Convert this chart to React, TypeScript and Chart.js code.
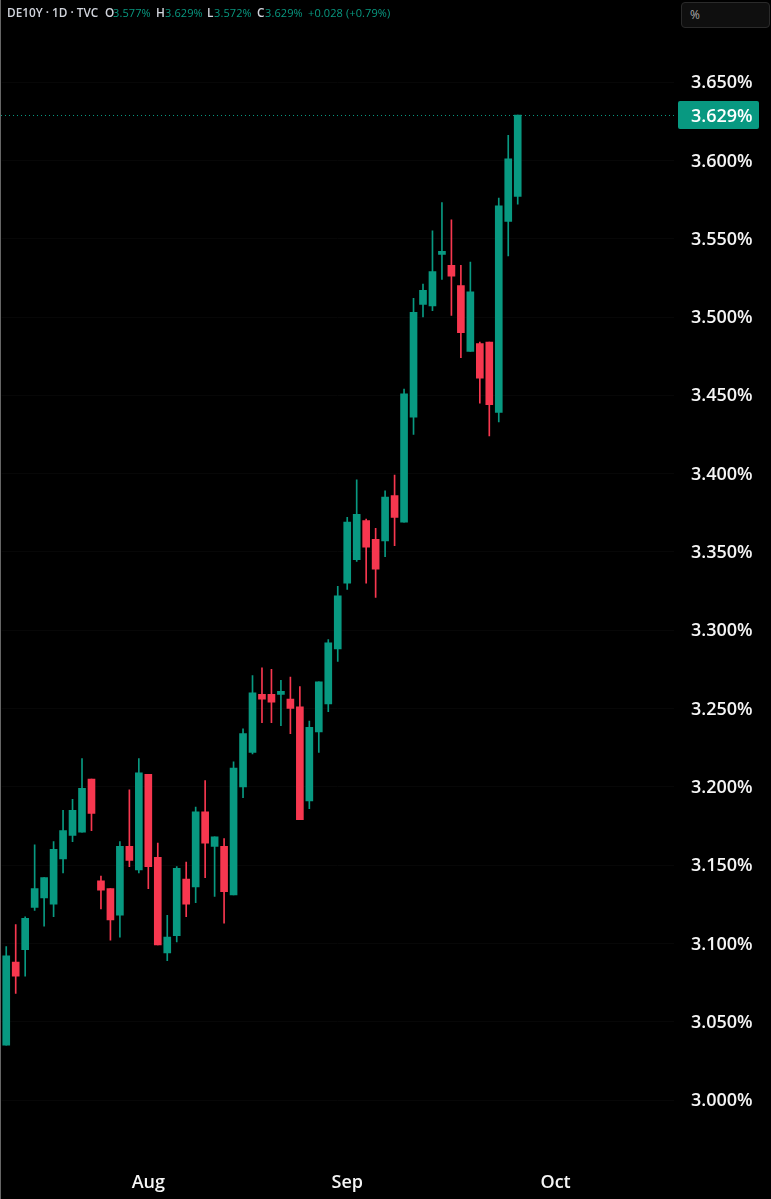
import React, { useEffect, useRef } from "react";
import { Chart, registerables } from "chart.js";

Chart.register(...registerables);

const UP = "#089981";
const DOWN = "#F7374F";

// One entry per trading day, oldest first
const opens = [
  3.035, 3.088, 3.096, 3.123, 3.129, 3.125, 3.154, 3.169, 3.171, 3.205,
  3.14, 3.135, 3.118, 3.162, 3.147, 3.208, 3.155, 3.094, 3.105, 3.141,
  3.136, 3.184, 3.162, 3.162, 3.131, 3.2, 3.222, 3.259, 3.259, 3.259,
  3.256, 3.251, 3.191, 3.235, 3.253, 3.288, 3.33, 3.345, 3.37, 3.358,
  3.357, 3.386, 3.369, 3.436, 3.508, 3.507, 3.54, 3.533, 3.52, 3.478,
  3.483, 3.484, 3.439, 3.561, 3.577,
];
const highs = [
  3.098, 3.112, 3.117, 3.163, 3.142, 3.165, 3.185, 3.192, 3.218, 3.205,
  3.143, 3.135, 3.165, 3.198, 3.218, 3.208, 3.164, 3.118, 3.149, 3.152,
  3.187, 3.204, 3.168, 3.167, 3.216, 3.237, 3.271, 3.276, 3.275, 3.268,
  3.27, 3.264, 3.242, 3.267, 3.294, 3.328, 3.372, 3.396, 3.371, 3.365,
  3.389, 3.399, 3.454, 3.512, 3.521, 3.555, 3.573, 3.562, 3.533, 3.535,
  3.484, 3.484, 3.576, 3.616, 3.629,
];
const lows = [
  3.035, 3.068, 3.079, 3.121, 3.111, 3.117, 3.145, 3.165, 3.171, 3.172,
  3.122, 3.102, 3.104, 3.149, 3.145, 3.135, 3.099, 3.089, 3.101, 3.117,
  3.126, 3.142, 3.13, 3.113, 3.131, 3.193, 3.221, 3.241, 3.241, 3.239,
  3.234, 3.179, 3.186, 3.222, 3.248, 3.28, 3.326, 3.344, 3.33, 3.321,
  3.347, 3.354, 3.369, 3.425, 3.5, 3.504, 3.524, 3.501, 3.474, 3.478,
  3.445, 3.424, 3.433, 3.539, 3.572,
];
const closes = [
  3.092, 3.079, 3.116, 3.135, 3.142, 3.16, 3.172, 3.185, 3.199, 3.183,
  3.134, 3.115, 3.162, 3.153, 3.209, 3.149, 3.099, 3.104, 3.148, 3.125,
  3.184, 3.164, 3.168, 3.133, 3.212, 3.234, 3.26, 3.256, 3.254, 3.261,
  3.25, 3.179, 3.238, 3.267, 3.292, 3.322, 3.369, 3.374, 3.353, 3.339,
  3.385, 3.372, 3.451, 3.503, 3.517, 3.529, 3.542, 3.526, 3.49, 3.516,
  3.461, 3.444, 3.571, 3.601, 3.629,
];
// Month labels on the time axis, with the bar slot where each one starts
const monthLabels = ["Aug", "Sep", "Oct"];
const monthSlots = [15, 36, 58];
const slotCount = 71;
const yTicks = [3.0, 3.05, 3.1, 3.15, 3.2, 3.25, 3.3, 3.35, 3.4, 3.45, 3.5, 3.55, 3.6, 3.65];
const lastClose = closes[closes.length - 1];

const AXIS_FONT = "'Open Sans', sans-serif";

const categories = Array.from({ length: slotCount }, (_, i) => {
  const m = monthSlots.indexOf(i);
  return m >= 0 ? monthLabels[m] : "";
});
const wickData = highs.map((h, i) => [lows[i], h]);
const bodyData = opens.map((o, i) => [o, closes[i]]);
const colorOf = (ctx: any) =>
  closes[ctx.dataIndex] >= opens[ctx.dataIndex] ? UP : DOWN;

const priceLine = {
  id: "priceLine",
  afterDraw(chart: any) {
    const { ctx, scales } = chart;
    const y = Math.round(scales.y.getPixelForValue(lastClose));
    ctx.save();
    ctx.strokeStyle = UP;
    ctx.lineWidth = 1;
    ctx.setLineDash([1, 3]);
    ctx.beginPath();
    ctx.moveTo(1, y + 0.5);
    ctx.lineTo(677, y + 0.5);
    ctx.stroke();
    ctx.setLineDash([]);
    ctx.fillStyle = UP;
    ctx.beginPath();
    ctx.roundRect(678, y - 14, 81, 28, 2);
    ctx.fill();
    ctx.fillStyle = "#ffffff";
    ctx.font = `600 18px ${AXIS_FONT}`;
    ctx.textAlign = "left";
    ctx.textBaseline = "middle";
    ctx.fillText(lastClose.toFixed(3) + "%", 691, y + 2);
    ctx.restore();
  },
};

const legendParts: [string, string, number][] = [
  ["DE10Y · 1D · TVC", "#d1d4dc", 7],
  ["O", "#d1d4dc", 105],
  ["3.577%", UP, 113],
  ["H", "#d1d4dc", 156],
  ["3.629%", UP, 165],
  ["L", "#d1d4dc", 207],
  ["3.572%", UP, 214],
  ["C", "#d1d4dc", 257],
  ["3.629%", UP, 265],
  ["+0.028 (+0.79%)", UP, 308],
];

export default function App() {
  const ref = useRef<HTMLCanvasElement>(null);

  useEffect(() => {
    document.body.style.margin = "0";
    document.body.style.background = "#000";
    const chart = new Chart(ref.current!, {
      type: "bar",
      data: {
        labels: categories,
        datasets: [
          {
            data: bodyData as any,
            backgroundColor: colorOf,
            barThickness: 7,
            grouped: false,
            order: 1,
          },
          {
            data: wickData as any,
            backgroundColor: colorOf,
            barThickness: 1,
            grouped: false,
            order: 2,
          },
        ],
      },
      options: {
        animation: false,
        responsive: false,
        layout: { padding: { left: 1.5 } },
        plugins: { legend: { display: false }, tooltip: { enabled: false } },
        scales: {
          x: {
            type: "category",
            grid: { display: false },
            border: { display: false },
            ticks: {
              autoSkip: false,
              maxRotation: 0,
              color: "#f5f5f5",
              padding: 4,
              font: { family: AXIS_FONT, size: 18, weight: "600" },
              callback(_v: any, i: number) {
                return categories[i];
              },
            },
            afterFit(scale: any) {
              scale.height = 39;
              scale.paddingLeft = 0;
              scale.paddingRight = 0;
            },
          },
          y: {
            position: "right",
            min: 2.96169,
            max: 3.70243,
            afterBuildTicks(scale: any) {
              scale.ticks = yTicks.map((value) => ({ value }));
            },
            grid: { color: "#070707", drawTicks: false },
            border: { display: false },
            ticks: {
              color: "#f5f5f5",
              padding: 17,
              labelOffset: 1,
              font: { family: AXIS_FONT, size: 18, weight: "600" },
              callback(v: any) {
                return Number(v).toFixed(3) + "%";
              },
            },
            afterFit(scale: any) {
              scale.width = 97;
              scale.paddingTop = 0;
              scale.paddingBottom = 0;
            },
          },
        },
      } as any,
      plugins: [priceLine],
    });
    return () => chart.destroy();
  }, []);

  return (
    <div style={{ position: "absolute", left: 0, top: 0, width: 771, height: 1199, background: "#000", overflow: "hidden" }}>
      <canvas ref={ref} width={771} height={1199} style={{ display: "block" }} />
      <div style={{ position: "absolute", left: 0, top: 0, width: 1, height: 1199, background: "#666" }} />
      {legendParts.map(([text, color, left], i) => (
        <span
          key={i}
          style={{
            position: "absolute",
            left,
            top: 5,
            color,
            whiteSpace: "nowrap",
            font: `${color === UP ? 500 : 600} ${color === UP ? 11 : 11.8}px/15px ${AXIS_FONT}`,
            letterSpacing: color === UP ? 0.1 : 0,
          }}
        >
          {text}
        </span>
      ))}
      <div style={{ position: "absolute", left: 681, top: 2, width: 89, height: 26, boxSizing: "border-box", background: "#0f0f0f", border: "1px solid #2a2a2a", borderRadius: 4, color: "#a8a8a8", font: `500 12px ${AXIS_FONT}`, lineHeight: "24px", paddingLeft: 8 }}>%</div>
    </div>
  );
}
